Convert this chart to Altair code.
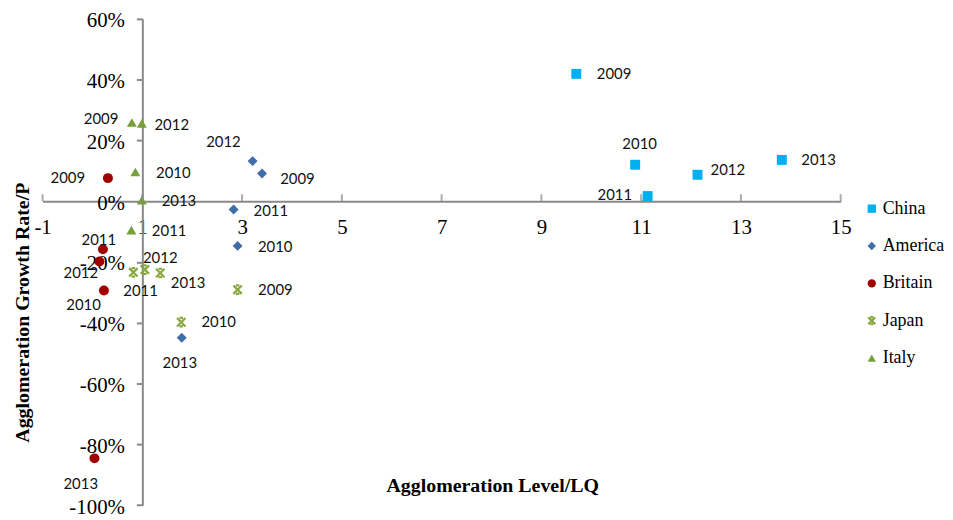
import altair as alt
import pandas as pd

# ---------------- data ----------------
years = [2009, 2010, 2011, 2012, 2013]
countries = ["China", "America", "Britain", "Japan", "Italy"]

china_lq = [9.70, 10.88, 11.13, 12.13, 13.82]
china_p = [0.419, 0.120, 0.017, 0.087, 0.136]
america_lq = [3.40, 2.91, 2.83, 3.21, 1.79]
america_p = [0.091, -0.147, -0.027, 0.132, -0.449]
britain_lq = [0.31, 0.23, 0.21, 0.14, 0.04]
britain_p = [0.076, -0.294, -0.158, -0.198, -0.846]
japan_lq = [2.91, 1.78, 0.82, 1.05, 1.36]
japan_p = [-0.291, -0.398, -0.234, -0.225, -0.236]
italy_lq = [0.79, 0.86, 0.78, 0.99, 0.99]
italy_p = [0.259, 0.096, -0.095, 0.256, 0.003]

x_ticks = [-1, 1, 3, 5, 7, 9, 11, 13, 15]
y_ticks = [-1.0, -0.8, -0.6, -0.4, -0.2, 0.0, 0.2, 0.4, 0.6]

# ---------------- styling ----------------
colors = ["#00B0F0", "#3F6CAA", "#A00000", "#86A83C", "#78A03A"]
JAPAN_STAR = ("M-0.85,-0.85L0.85,0.85M-0.85,0.85L0.85,-0.85"
              "M-0.35,-0.85L0.35,-0.85M-0.35,0.85L0.35,0.85")
shapes = ["square", "diamond", "circle", JAPAN_STAR, "triangle-up"]
stroke_widths = [0, 0, 0, 2.2, 0]

# label placement (pixel offsets from the point), per country in year order
label_offsets = {
    "China":   [(38, 0), (4.5, -21), (-33, -1), (30.5, -5), (37, 0)],
    "America": [(35.6, 5), (37.8, 0.7), (37.4, 1.7), (-29.3, -19), (-2, 25)],
    "Britain": [(-40.4, -0.5), (-20.5, 14.5), (-4.1, -8.8), (-18.8, 12), (-13.8, 26)],
    "Japan":   [(38, 0.5), (37.7, 0), (7.2, 18.6), (15.5, -11.2), (27.9, 10)],
    "Italy":   [(-31, -4), (38.2, 1.3), (38, 1.2), (30.1, 1.8), (37.3, 1.2)],
}

W, H = 803.2, 489.4
X_DOMAIN = [-1, 15]
Y_DOMAIN = [-1.0, 0.6]
PX_X = W / (X_DOMAIN[1] - X_DOMAIN[0])
PX_Y = H / (Y_DOMAIN[1] - Y_DOMAIN[0])

series = {
    "China": (china_lq, china_p),
    "America": (america_lq, america_p),
    "Britain": (britain_lq, britain_p),
    "Japan": (japan_lq, japan_p),
    "Italy": (italy_lq, italy_p),
}

rows = []
for c in countries:
    lqs, ps = series[c]
    for i, yr in enumerate(years):
        dx, dy = label_offsets[c][i]
        rows.append({
            "Country": c, "Year": str(yr), "LQ": lqs[i], "P": ps[i],
            "lx": lqs[i] + dx / PX_X, "ly": ps[i] - dy / PX_Y,
        })
df = pd.DataFrame(rows)
tick_df = pd.DataFrame({"LQ": x_ticks, "P": [0.0] * len(x_ticks)})

xscale = alt.Scale(domain=X_DOMAIN, nice=False, zero=False)
yscale = alt.Scale(domain=Y_DOMAIN, nice=False, zero=False)

AXIS_GRAY = "#898989"
SERIF = "Liberation Serif"

x_offset = -(0 - Y_DOMAIN[0]) * PX_Y      # move x axis up to y = 0
y_offset = -(1 - X_DOMAIN[0]) * PX_X      # move y axis right to x = 1

x_axis = alt.Axis(
    values=x_ticks, offset=x_offset, ticks=False, grid=False,
    domainColor=AXIS_GRAY, domainWidth=2,
    labelFont=SERIF, labelFontSize=21, labelColor="#000", labelPadding=15,
    labelFlush=False, labelOverlap=False,
    labelExpr="(datum.value < 0 ? '-' : '') + abs(datum.value)",
    title="Agglomeration Level/LQ", titleFont=SERIF, titleFontSize=20,
    titleFontWeight="bold", titleColor="#000",
    titleX=452.5, titleY=291.7, titleAlign="center", titleBaseline="alphabetic",
    titleAngle=0,
)
y_axis = alt.Axis(
    values=y_ticks, offset=y_offset, grid=False,
    tickSize=6, tickWidth=2, tickColor=AXIS_GRAY,
    domainColor=AXIS_GRAY, domainWidth=2,
    labelFont=SERIF, labelFontSize=21, labelColor="#000", labelPadding=12,
    labelOverlap=False, labelFlush=False, labelOffset=2,
    labelExpr="(datum.value < -0.001 ? '-' : '') + round(abs(datum.value) * 100) + '%'",
    title="Agglomeration Growth Rate/P", titleFont=SERIF, titleFontSize=20,
    titleFontWeight="bold", titleColor="#000",
    titleX=-115, titleY=295.2, titleAngle=270, titleAlign="center",
    titleBaseline="alphabetic",
)

legend = alt.Legend(
    title=None, orient="none", legendX=825.5, legendY=182,
    labelFont=SERIF, labelFontSize=18, labelColor="#000",
    symbolSize=70, labelOffset=2, rowPadding=19.6, padding=0,
)

points = alt.Chart(df).mark_point(filled=True, opacity=1, size=100).encode(
    x=alt.X("LQ:Q", scale=xscale, axis=x_axis),
    y=alt.Y("P:Q", scale=yscale, axis=y_axis),
    fill=alt.Fill("Country:N", scale=alt.Scale(domain=countries, range=colors), legend=legend),
    stroke=alt.Stroke("Country:N", scale=alt.Scale(domain=countries, range=colors), legend=legend),
    shape=alt.Shape("Country:N", scale=alt.Scale(domain=countries, range=shapes), legend=legend),
    strokeWidth=alt.StrokeWidth("Country:N",
                                scale=alt.Scale(type="ordinal", domain=countries, range=stroke_widths),
                                legend=legend),
)

ticks = alt.Chart(tick_df).mark_tick(
    orient="vertical", size=7, thickness=2, color=AXIS_GRAY, yOffset=-3.5
).encode(
    x=alt.X("LQ:Q", scale=xscale, axis=x_axis),
    y=alt.Y("P:Q", scale=yscale, axis=y_axis),
)

labels = alt.Chart(df).mark_text(
    font="Lato", fontSize=15, color="#111", align="center", baseline="middle"
).encode(
    x=alt.X("lx:Q", scale=xscale, axis=x_axis),
    y=alt.Y("ly:Q", scale=yscale, axis=y_axis),
    text="Year:N",
)

chart = alt.layer(points, ticks, labels).properties(
    width=W, height=H,
    background="white",
    autosize=alt.AutoSizeParams(type="none"),
    padding={"left": 34.8, "top": 9.3, "right": 105, "bottom": 13.3},
).configure_view(stroke=None)

chart.save("out.html", embed_options={"renderer": "svg", "actions": False})
